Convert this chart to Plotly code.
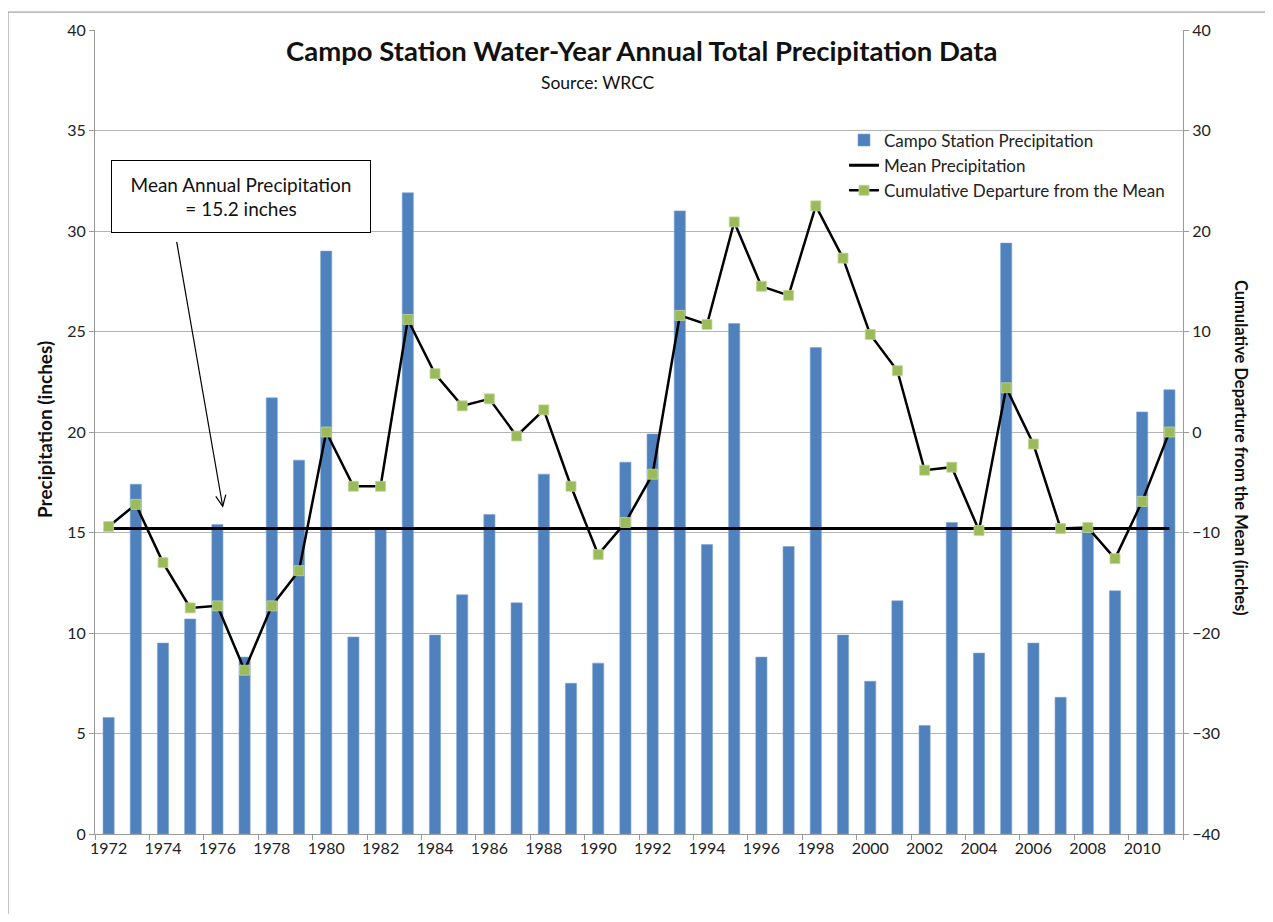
import plotly.graph_objects as go

years = list(range(1972, 2012))
precip = [5.8, 17.4, 9.5, 10.7, 15.4, 8.8, 21.7, 18.6, 29.0, 9.8,
          15.2, 31.9, 9.9, 11.9, 15.9, 11.5, 17.9, 7.5, 8.5, 18.5,
          19.9, 31.0, 14.4, 25.4, 8.8, 14.3, 24.2, 9.9, 7.6, 11.6,
          5.4, 15.5, 9.0, 29.4, 9.5, 6.8, 15.3, 12.1, 21.0, 22.1]
cum_departure = [-9.4, -7.2, -13.0, -17.5, -17.3, -23.7, -17.3, -13.8, 0.0, -5.4,
                 -5.4, 11.2, 5.8, 2.6, 3.3, -0.4, 2.2, -5.4, -12.2, -9.0,
                 -4.2, 11.6, 10.7, 20.9, 14.5, 13.6, 22.5, 17.3, 9.7, 6.1,
                 -3.8, -3.5, -9.8, 4.4, -1.2, -9.6, -9.5, -12.6, -6.9, 0.0]
mean_precip = 15.2
year_labels = [str(y) for y in range(1972, 2012, 2)]

FONT = "Lato"
OFF = 8  # page body margin
W, H = 1257, 906
ML, MT = 87, 18
MR, MB = W - (1183 - OFF), H - (834 - OFF)
PW, PH = W - ML - MR, H - MT - MB


# screen pixel -> paper fraction
def px(x):
    return (x - OFF - ML) / PW


def py(y):
    return (H - MB - (y - OFF)) / PH


fig = go.Figure()

fig.add_trace(go.Bar(
    x=years, y=precip, name="Campo Station Precipitation",
    marker=dict(color="#4F81BD", line=dict(color="#7ea3d3", width=0.6)),
    width=0.41,
))
fig.add_trace(go.Scatter(
    x=years, y=[mean_precip] * len(years), name="Mean Precipitation",
    mode="lines", line=dict(color="black", width=3),
))
fig.add_trace(go.Scatter(
    x=years, y=cum_departure, name="Cumulative Departure from the Mean",
    mode="lines+markers", yaxis="y2",
    line=dict(color="black", width=2.5),
    marker=dict(symbol="square", size=10, color="#9BBB59",
                line=dict(color="#c3d69b", width=0.8)),
))

fig.update_layout(
    width=W, height=H,
    margin=dict(l=ML, r=MR, t=MT, b=MB),
    plot_bgcolor="white", paper_bgcolor="white",
    font=dict(family=FONT, size=16, color="#222"),
    showlegend=True,
    legend=dict(x=px(844), y=py(119), xanchor="left", yanchor="top",
                bgcolor="rgba(0,0,0,0)", font=dict(size=17, color="#222")),
    xaxis=dict(
        range=[1971.5, 2011.5],
        tickmode="array", tickvals=list(range(1972, 2012, 2)), ticktext=year_labels,
        ticks="", showgrid=False, zeroline=False,
        showline=True, linecolor="#9a9a9a", linewidth=1,
        tickfont=dict(size=16, color="#222"),
        minor=dict(tickmode="array", tickvals=[1971.5 + 2 * k for k in range(21)],
                   ticks="outside", ticklen=5, tickcolor="#9a9a9a", showgrid=False),
    ),
    yaxis=dict(
        range=[0, 40], dtick=5, showgrid=True, gridcolor="#b4b4b4", gridwidth=1,
        zeroline=False, showline=True, linecolor="#9a9a9a", linewidth=1,
        ticks="outside", ticklen=5, tickcolor="#9a9a9a",
        tickfont=dict(size=16, color="#222"),
    ),
    yaxis2=dict(
        range=[-40, 40], dtick=10, overlaying="y", side="right",
        showgrid=False, zeroline=False, showline=True, linecolor="#9a9a9a", linewidth=1,
        ticks="outside", ticklen=5, tickcolor="#9a9a9a",
        tickfont=dict(size=16, color="#222"),
    ),
)


def label(x, y, text, size, **kw):
    fig.add_annotation(x=px(x), y=py(y), xref="paper", yref="paper",
                       xanchor="center", yanchor="middle", text=text,
                       showarrow=False, font=dict(size=size, color="#111"), **kw)


# chart title and source
label(641, 47, "<b>Campo Station Water-Year Annual Total Precipitation Data</b>", 27.5)
label(598, 79, "Source: WRCC", 17.5)

# axis titles
label(44, 428, "<b>Precipitation (inches)</b>", 19, textangle=-90)
label(1241, 446, "<b>Cumulative Departure from the Mean (inches)</b>", 16.5, textangle=90)

# mean callout box
label(241, 193, "Mean Annual Precipitation<br>= 15.2 inches", 19,
      bordercolor="black", borderwidth=1, bgcolor="white",
      width=250, height=63, borderpad=4, align="center")

# callout arrow with open head
tip = (222.7, 504.6)
tail = (176.7, 239.0)
arm1 = (215.8, 494.7)
arm2 = (225.8, 493.0)
fig.add_shape(type="line", xref="paper", yref="paper",
              x0=px(tail[0]), y0=py(tail[1]), x1=px(tip[0]), y1=py(tip[1]),
              line=dict(color="black", width=1.2))
fig.add_shape(type="path", xref="paper", yref="paper",
              path="M %f,%f L %f,%f L %f,%f" % (px(arm1[0]), py(arm1[1]),
                                                px(tip[0]), py(tip[1]),
                                                px(arm2[0]), py(arm2[1])),
              line=dict(color="black", width=1.2))

# outer chart border
fig.add_shape(type="rect", xref="paper", yref="paper",
              x0=px(OFF), x1=px(1300), y0=py(940), y1=py(OFF),
              line=dict(color="#8c8c8c", width=1), layer="below")

fig.write_html("out.html")
